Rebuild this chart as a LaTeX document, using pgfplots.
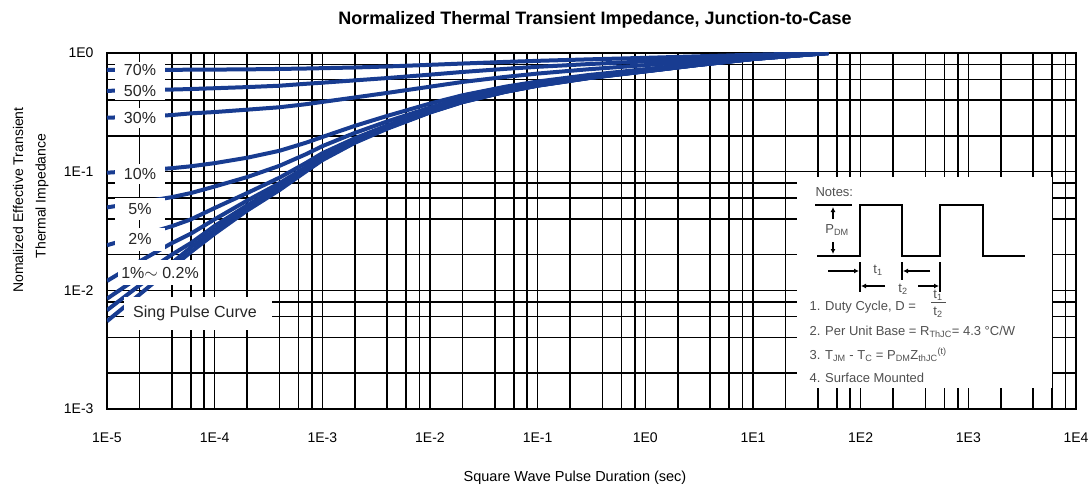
\documentclass[border=0pt]{standalone}
\usepackage{fontspec}
\setmainfont{Liberation Sans}
\usepackage{pgfplots}
\pgfplotsset{compat=1.18}
\usetikzlibrary{arrows.meta}
\definecolor{curve}{RGB}{24,60,145}
\definecolor{notegray}{RGB}{80,80,80}
\begin{document}
\begin{tikzpicture}
\path[use as bounding box] (-107pt,-79pt) rectangle (985pt,409pt);
\begin{axis}[
 at={(0pt,0pt)}, anchor=south west,
 scale only axis, width=969pt, height=356pt,
 xmode=log, ymode=log,
 xmin=1e-5, xmax=1e4, ymin=1e-3, ymax=1,
 xtick={1e-5,1e-4,1e-3,1e-2,1e-1,1,1e1,1e2,1e3,1e4},
 xticklabels={1E-5,1E-4,1E-3,1E-2,1E-1,1E0,1E1,1E2,1E3,1E4},
 ytick={1e-3,1e-2,1e-1,1},
 yticklabels={1E-3,1E-2,1E-1,1E0},
 minor xtick={2e-5,4e-5,6e-5,8e-5,2e-4,4e-4,6e-4,8e-4,2e-3,4e-3,6e-3,8e-3,2e-2,4e-2,6e-2,8e-2,2e-1,4e-1,6e-1,8e-1,2,4,6,8,20,40,60,80,200,400,600,800,2000,4000,6000,8000},
 minor ytick={2e-3,4e-3,6e-3,8e-3,2e-2,4e-2,6e-2,8e-2,0.2,0.4,0.6,0.8},
 grid=both,
 major grid style={black,line width=1.6pt},
 minor grid style={black,line width=1.6pt},
 axis line style={black,line width=1.8pt},
 major tick length=0pt, minor tick length=0pt,
 tick label style={font=\fontsize{14}{16}\selectfont},
 xticklabel style={yshift=-20pt},
 yticklabel style={xshift=-10pt},
 cycle list={{curve,solid,line width=4pt,line join=round}},
 every axis plot post/.append style={curve,solid,line width=4pt,line join=round,mark=none},
]
% single pulse
\addplot coordinates {(1e-5,0.0055)(2e-5,0.0092)(4e-5,0.0155)(6e-5,0.021)(1e-4,0.03)(2e-4,0.047)(4e-4,0.07)(7e-4,0.1)(1e-3,0.125)(2e-3,0.175)(4e-3,0.23)(1e-2,0.315)(2e-2,0.385)(5e-2,0.47)(1e-1,0.53)(3e-1,0.615)(1,0.70)(3,0.79)(10,0.89)(50,1.0)};
% 0.2%
\addplot coordinates {(1e-5,0.0068)(2e-5,0.011)(4e-5,0.017)(6e-5,0.023)(1e-4,0.032)(2e-4,0.049)(4e-4,0.072)(7e-4,0.102)(1e-3,0.127)(2e-3,0.177)(4e-3,0.232)(1e-2,0.317)(2e-2,0.386)(5e-2,0.471)(1e-1,0.531)(3e-1,0.616)(1,0.7006)(3,0.7904)(10,0.8902)(50,1.0)};
% 0.5%
\addplot coordinates {(1e-5,0.0085)(2e-5,0.013)(4e-5,0.02)(6e-5,0.025)(1e-4,0.0349)(2e-4,0.052)(4e-4,0.075)(7e-4,0.105)(1e-3,0.13)(2e-3,0.179)(4e-3,0.234)(1e-2,0.318)(2e-2,0.388)(5e-2,0.473)(1e-1,0.532)(3e-1,0.617)(1,0.7015)(3,0.791)(10,0.8905)(50,1.0)};
% 1%
\addplot coordinates {(1e-5,0.012)(2e-5,0.0175)(4e-5,0.025)(6e-5,0.03)(1e-4,0.0397)(2e-4,0.057)(4e-4,0.08)(7e-4,0.109)(1e-3,0.134)(2e-3,0.183)(4e-3,0.238)(1e-2,0.322)(2e-2,0.391)(5e-2,0.475)(1e-1,0.535)(3e-1,0.619)(1,0.703)(3,0.7921)(10,0.8911)(50,1.0)};
% 2%
\addplot coordinates {(1e-5,0.024)(2e-5,0.0288)(4e-5,0.0347)(6e-5,0.0396)(1e-4,0.0494)(2e-4,0.066)(4e-4,0.089)(7e-4,0.118)(1e-3,0.143)(2e-3,0.191)(4e-3,0.245)(1e-2,0.329)(2e-2,0.397)(5e-2,0.48)(1e-1,0.539)(3e-1,0.623)(1,0.706)(3,0.7942)(10,0.8922)(50,1.0)};
% 5%
\addplot coordinates {(1e-5,0.050)(2e-5,0.055)(4e-5,0.061)(6e-5,0.066)(1e-4,0.075)(2e-4,0.09)(4e-4,0.112)(7e-4,0.14)(1e-3,0.164)(2e-3,0.212)(4e-3,0.265)(1e-2,0.347)(2e-2,0.415)(5e-2,0.496)(1e-1,0.553)(3e-1,0.634)(1,0.715)(3,0.8005)(10,0.8955)(50,1.0)};
% 10%
\addplot coordinates {(1e-5,0.098)(2e-5,0.102)(4e-5,0.107)(6e-5,0.111)(1e-4,0.118)(2e-4,0.131)(4e-4,0.15)(7e-4,0.175)(1e-3,0.196)(2e-3,0.243)(4e-3,0.295)(1e-2,0.375)(2e-2,0.44)(5e-2,0.52)(1e-1,0.575)(3e-1,0.653)(1,0.73)(3,0.811)(10,0.901)(50,1.0)};
% 30%
\addplot coordinates {(1e-5,0.285)(2e-5,0.29)(4e-5,0.30)(6e-5,0.31)(1e-4,0.318)(2e-4,0.333)(4e-4,0.349)(7e-4,0.37)(1e-3,0.387)(2e-3,0.422)(4e-3,0.461)(1e-2,0.52)(2e-2,0.57)(5e-2,0.629)(1e-1,0.671)(3e-1,0.73)(1,0.79)(3,0.853)(10,0.923)(50,1.0)};
% 50%
\addplot coordinates {(1e-5,0.48)(2e-5,0.485)(4e-5,0.492)(6e-5,0.497)(1e-4,0.505)(2e-4,0.516)(4e-4,0.53)(7e-4,0.55)(1e-3,0.562)(2e-3,0.588)(4e-3,0.615)(1e-2,0.657)(2e-2,0.692)(5e-2,0.735)(1e-1,0.765)(3e-1,0.807)(1,0.85)(3,0.895)(10,0.945)(50,1.0)};
% 70%
\addplot coordinates {(1e-5,0.72)(2e-5,0.721)(4e-5,0.722)(6e-5,0.723)(1e-4,0.725)(2e-4,0.728)(4e-4,0.734)(7e-4,0.74)(1e-3,0.745)(2e-3,0.755)(4e-3,0.77)(1e-2,0.795)(2e-2,0.815)(5e-2,0.841)(1e-1,0.859)(3e-1,0.884)(1,0.91)(3,0.937)(10,0.967)(50,1.0)};
\end{axis}
\begin{scope}[x=1pt,y=-1pt,shift={(-107pt,409pt)}]
 % curve label boxes
 \fill[white] (115,62) rectangle (165,100);
 \fill[white] (115,108) rectangle (165,128);
 \fill[white] (115,164) rectangle (165,184);
 \fill[white] (115,198) rectangle (165,220);
 \fill[white] (115,228) rectangle (165,251);
 \fill[white] (118,260) rectangle (202,285);
 \fill[white] (124,297) rectangle (272,330);
 \begin{scope}[every node/.style={font=\fontsize{16}{18}\selectfont,text=black!85}]
 \node at (140,70) {70\%};
 \node at (140,91) {50\%};
 \node at (140,118) {30\%};
 \node at (140,174) {10\%};
 \node at (140,209) {5\%};
 \node at (140,239) {2\%};
 \node at (160,273) {1\%$\sim$ 0.2\%};
 \node at (195,313) {Sing Pulse Curve};
 \end{scope}
 % notes box
 \fill[white] (797,177) rectangle (1052,388);
 \begin{scope}[every node/.style={font=\fontsize{13}{15}\selectfont,text=notegray}]
 \node[anchor=west] at (812,192) {Notes:};
 \draw[line width=2.6pt,line join=miter] (817,256) -- (860,256) -- (860,205) -- (902,205) -- (902,256) -- (940,256) -- (940,205) -- (983,205) -- (983,256) -- (1025,256);
 \draw[line width=1.6pt] (815,205) -- (852,205);
 \draw[line width=1.2pt,-{Latex[length=5pt,width=5pt]}] (833,219) -- (833,207);
 \draw[line width=1.2pt,-{Latex[length=5pt,width=5pt]}] (833,242) -- (833,254);
 \node at (837,230) {P\textsubscript{DM}};
 \draw[line width=1.2pt] (860,262) -- (860,292);
 \draw[line width=1.2pt] (902,262) -- (902,280);
 \draw[line width=1.2pt] (940,262) -- (940,292);
 \draw[line width=1.2pt,-{Latex[length=5pt,width=5pt]}] (828,271) -- (859,271);
 \draw[line width=1.2pt,-{Latex[length=5pt,width=5pt]}] (930,271) -- (903,271);
 \draw[line width=1.2pt,-{Latex[length=5pt,width=5pt]}] (885,286) -- (861,286);
 \draw[line width=1.2pt,-{Latex[length=5pt,width=5pt]}] (918,286) -- (939,286);
 \node at (878,270) {t\textsubscript{1}};
 \node at (903,289) {t\textsubscript{2}};
 \node[anchor=west] at (806,307) {1. Duty Cycle, D =};
 \node at (938,295) {t\textsubscript{1}};
 \draw[line width=0.8pt,notegray] (931,302) -- (946,302);
 \node at (938,312) {t\textsubscript{2}};
 \node[anchor=west] at (806,332) {2. Per Unit Base = R\textsubscript{ThJC}= 4.3 °C/W};
 \node[anchor=west] at (806,355) {3. T\textsubscript{JM} - T\textsubscript{C} = P\textsubscript{DM}Z\textsubscript{thJC}\textsuperscript{(t)}};
 \node[anchor=west] at (806,378) {4. Surface Mounted};
 \end{scope}
 % titles
 \node[font=\bfseries\fontsize{18}{21}\selectfont] at (595,20) {Normalized Thermal Transient Impedance, Junction-to-Case};
 \node[font=\fontsize{14.5}{17}\selectfont] at (575,478) {Square Wave Pulse Duration (sec)};
 \node[font=\fontsize{14}{16}\selectfont,rotate=90] at (18,200) {Nomalized Effective Transient};
 \node[font=\fontsize{14}{16}\selectfont,rotate=90] at (42,196) {Thermal Impedance};
\end{scope}
\end{tikzpicture}
\end{document}
